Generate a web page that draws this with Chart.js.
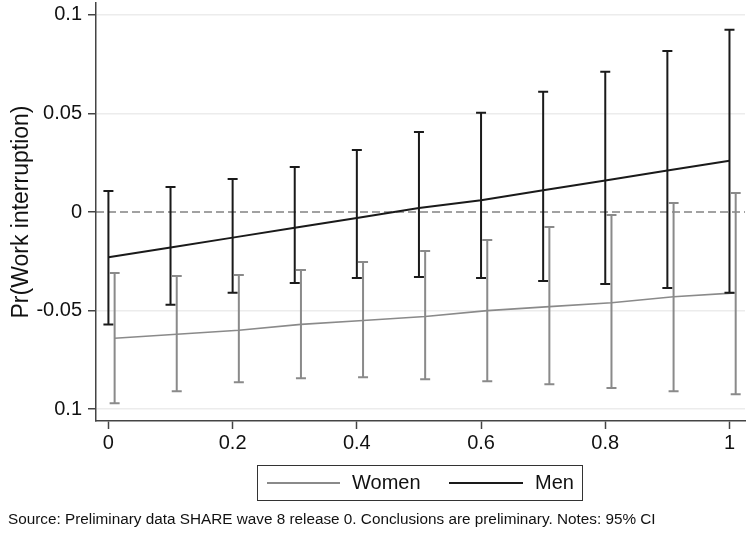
<!DOCTYPE html>
<html>
<head>
<meta charset="utf-8">
<script src="https://cdn.jsdelivr.net/npm/chart.js@4.4.1/dist/chart.umd.min.js"></script>
<style>
  html, body { margin: 0; padding: 0; background: #fff; }
  #wrap { position: relative; width: 749px; height: 534px; font-family: "Liberation Sans", Arial, sans-serif; }
  #legend {
    position: absolute; left: 257px; top: 465px; width: 326px; height: 36px;
    border: 1.5px solid #333; box-sizing: border-box; font-size: 20px; color: #111;
  }
  #legend .sw { position: absolute; top: 16px; height: 0; }
  #legend .lb { position: absolute; top: 5px; }
  #source { position: absolute; left: 8px; top: 510px; font-size: 15.3px; color: #111; white-space: nowrap; }
</style>
</head>
<body>
<div id="wrap">
  <canvas id="chart" width="749" height="534"></canvas>
  <div id="legend">
    <div class="sw" style="left:9px;width:73px;border-top:2px solid #8a8a8a"></div>
    <div class="lb" style="left:94px">Women</div>
    <div class="sw" style="left:191px;width:74px;border-top:2px solid #1a1a1a"></div>
    <div class="lb" style="left:277px">Men</div>
  </div>
  <div id="source">Source: Preliminary data SHARE wave 8 release 0. Conclusions are preliminary. Notes: 95% CI</div>
</div>
<script>
// data
const xValues = [0, 0.1, 0.2, 0.3, 0.4, 0.5, 0.6, 0.7, 0.8, 0.9, 1];

const menEst  = [-0.023, -0.018, -0.013, -0.008, -0.003, 0.002, 0.006, 0.011, 0.016, 0.021, 0.026];
const menLow  = [-0.057, -0.047, -0.041, -0.036, -0.0335, -0.033, -0.0335, -0.035, -0.0365, -0.0386, -0.041];
const menHigh = [0.0107, 0.0127, 0.0168, 0.0228, 0.0315, 0.0406, 0.0503, 0.061, 0.0711, 0.0817, 0.0924];

const womenEst  = [-0.064, -0.062, -0.060, -0.057, -0.055, -0.053, -0.050, -0.048, -0.046, -0.043, -0.041];
const womenLow  = [-0.097, -0.0909, -0.0863, -0.0843, -0.0838, -0.0848, -0.0858, -0.0873, -0.0893, -0.0909, -0.0924];
const womenHigh = [-0.031, -0.0325, -0.032, -0.0294, -0.0254, -0.0198, -0.0142, -0.0076, -0.0015, 0.0046, 0.0096];

const xTicks = [0, 0.2, 0.4, 0.6, 0.8, 1];
const xTickLabels = ["0", "0.2", "0.4", "0.6", "0.8", "1"];
const yTicks = [0.1, 0.05, 0, -0.05, -0.1];
const yTickLabels = ["0.1", "0.05", "0", "-0.05", "0.1"];

// women markers are nudged right a little, like the original
const womenShift = 0.01;

const menColor = "#1a1a1a";
const womenColor = "#8a8a8a";

const series = [
  { x: xValues, est: menEst, low: menLow, high: menHigh, color: menColor, shift: 0, width: 2 },
  { x: xValues, est: womenEst, low: womenLow, high: womenHigh, color: womenColor, shift: womenShift, width: 2 }
];

// dashed zero line + error bars
const ciPlugin = {
  id: "ci",
  beforeDatasetsDraw(chart) {
    const { ctx, chartArea, scales } = chart;
    const y0 = scales.y.getPixelForValue(0);
    ctx.save();
    ctx.strokeStyle = "#444";
    ctx.lineWidth = 1.2;
    ctx.setLineDash([8, 4]);
    ctx.beginPath();
    ctx.moveTo(chartArea.left, y0);
    ctx.lineTo(chartArea.right, y0);
    ctx.stroke();
    ctx.restore();
  },
  afterDatasetsDraw(chart) {
    const { ctx, scales } = chart;
    ctx.save();
    series.forEach(s => {
      ctx.strokeStyle = s.color;
      ctx.lineWidth = s.width;
      s.x.forEach((xv, i) => {
        const px = scales.x.getPixelForValue(xv + s.shift);
        const top = scales.y.getPixelForValue(s.high[i]);
        const bot = scales.y.getPixelForValue(s.low[i]);
        ctx.beginPath();
        ctx.moveTo(px, top); ctx.lineTo(px, bot);
        ctx.moveTo(px - 5, top); ctx.lineTo(px + 5, top);
        ctx.moveTo(px - 5, bot); ctx.lineTo(px + 5, bot);
        ctx.stroke();
      });
    });
    ctx.restore();
  }
};

const ctx = document.getElementById("chart").getContext("2d");
new Chart(ctx, {
  type: "scatter",
  data: {
    datasets: [
      {
        label: "Women",
        data: xValues.map((x, i) => ({ x: x + womenShift, y: womenEst[i] })),
        showLine: true, borderColor: womenColor, borderWidth: 1.6, pointRadius: 0
      },
      {
        label: "Men",
        data: xValues.map((x, i) => ({ x: x, y: menEst[i] })),
        showLine: true, borderColor: menColor, borderWidth: 2, pointRadius: 0
      }
    ]
  },
  options: {
    responsive: false,
    animation: false,
    layout: { padding: { top: 3, right: 4, left: 0, bottom: 0 } },
    plugins: { legend: { display: false }, tooltip: { enabled: false } },
    scales: {
      x: {
        type: "linear", min: -0.02, max: 1.025,
        afterBuildTicks: scale => { scale.ticks = xTicks.map(v => ({ value: v })); },
        afterFit: scale => { scale.height = 113; },
        ticks: {
          callback: (v, i) => xTickLabels[i],
          font: { family: "Liberation Sans", size: 20 }, color: "#111", padding: 2, maxRotation: 0
        },
        grid: { drawOnChartArea: false, drawTicks: true, tickLength: 8, tickColor: "#444", tickWidth: 1.5 },
        border: { color: "#444", width: 1.5 }
      },
      y: {
        min: -0.106, max: 0.106,
        afterBuildTicks: scale => { scale.ticks = yTicks.map(v => ({ value: v })); },
        afterFit: scale => { scale.width = 96; scale.paddingTop = 0; scale.paddingBottom = 0; },
        ticks: {
          callback: (v, i) => yTickLabels[i],
          font: { family: "Liberation Sans", size: 20 }, color: "#111", padding: 6
        },
        title: {
          display: true, text: "Pr(Work interruption)",
          font: { family: "Liberation Sans", size: 23 }, color: "#111", padding: { top: 8, bottom: 0 }
        },
        grid: {
          color: c => (c.tick && c.tick.value === 0) ? "rgba(0,0,0,0)" : "#ececec",
          lineWidth: 1.5, tickLength: 8, tickColor: "#444", tickWidth: 1.5
        },
        border: { color: "#444", width: 1.5 }
      }
    }
  },
  plugins: [ciPlugin]
});
</script>
</body>
</html>
